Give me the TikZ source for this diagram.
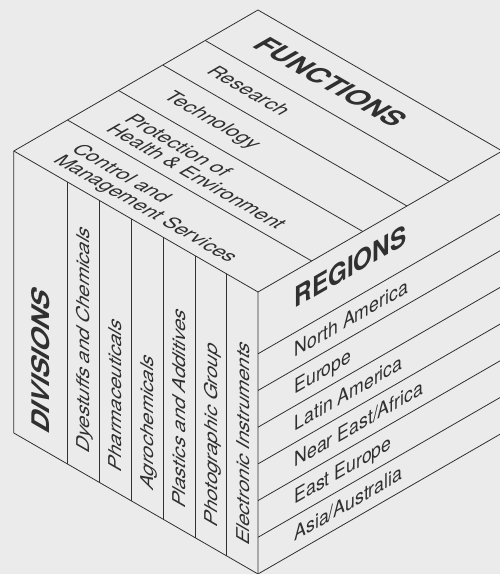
\documentclass[tikz,border=0pt]{standalone}
\usepackage{fontspec}
\setmainfont{TeX Gyre Heros}
\definecolor{paper}{HTML}{EBEBEB}
\definecolor{ink}{HTML}{303030}
\tikzset{
  cubeline/.style={draw=ink, line width=0.8pt, line join=round},
  lbl/.style={transform shape, inner sep=0pt, anchor=base west, text=ink,
    font=\fontsize{20.4}{21}\selectfont},
  hdr/.style={lbl, font=\bfseries\fontsize{28}{28}\selectfont},
}

\begin{document}
\begin{tikzpicture}[x=1pt,y=1pt]
\fill[paper] (0,0) rectangle (500,574);
\useasboundingbox (0,0) rectangle (500,574);
% cube corners
\coordinate (F) at (258,282);
\coordinate (D) at (258,0);
\coordinate (A) at (13.8,423);
\coordinate (Ab) at (13.8,141);
\coordinate (T) at (258,564);
\coordinate (B) at (502.2,423);
\coordinate (Bb) at (502.2,141);
\draw[cubeline] (A) -- (T) -- (B) -- (Bb) -- (D) -- (Ab) -- cycle;
\draw[cubeline] (A) -- (F) -- (B) (F) -- (D);

% top face: functions
\begin{scope}[cm={0.866,-0.5,0.866,0.5,(13.8,423)}]
  \foreach \t in {62,121,172,221} \draw[cubeline] (0,\t) -- (282,\t);
  \node[lbl] (ctrl) at (32,33) {Control and};
  \node[lbl] (mgmt) at (32,12) {Management Services};
  \node[lbl] (prot) at (32,94) {Protection of};
  \node[lbl] (hlth) at (32,73) {Health \& Environment};
  \node[lbl] (tech) at (32,139) {Technology};
  \node[lbl] (res) at (32,189) {Research};
  \node[hdr] (fun) at (32,241.5) {FUNCTIONS};
\end{scope}

% left face: divisions
\begin{scope}[cm={0.866,-0.5,0,1,(13.8,141)}]
  \node[hdr, rotate=90] (div) at (41,18) {DIVISIONS};
  \foreach \txt [count=\i] in {Dyestuffs and Chemicals, Pharmaceuticals,
      Agrochemicals, Plastics and Additives, Photographic Group,
      Electronic Instruments} {
    \draw[cubeline] ({25.2+36.8*\i},0) -- ++(0,282);
    \node[lbl, rotate=90] (div\i) at ({51+36.8*\i},22) {\txt};
  }
\end{scope}

% right face: regions
\begin{scope}[cm={0.866,0.5,0,1,(258,0)}]
  \node[hdr] (reg) at (42,244) {REGIONS};
  \foreach \txt [count=\i] in {Asia/Australia, East Europe, Near East/Africa,
      Latin America, Europe, North America} {
    \draw[cubeline] (0,{36.7*\i}) -- (282,{36.7*\i});
    \node[lbl] (reg\i) at (42,{36.7*\i-25.2}) {\txt};
  }
\end{scope}
\end{tikzpicture}
\end{document}
